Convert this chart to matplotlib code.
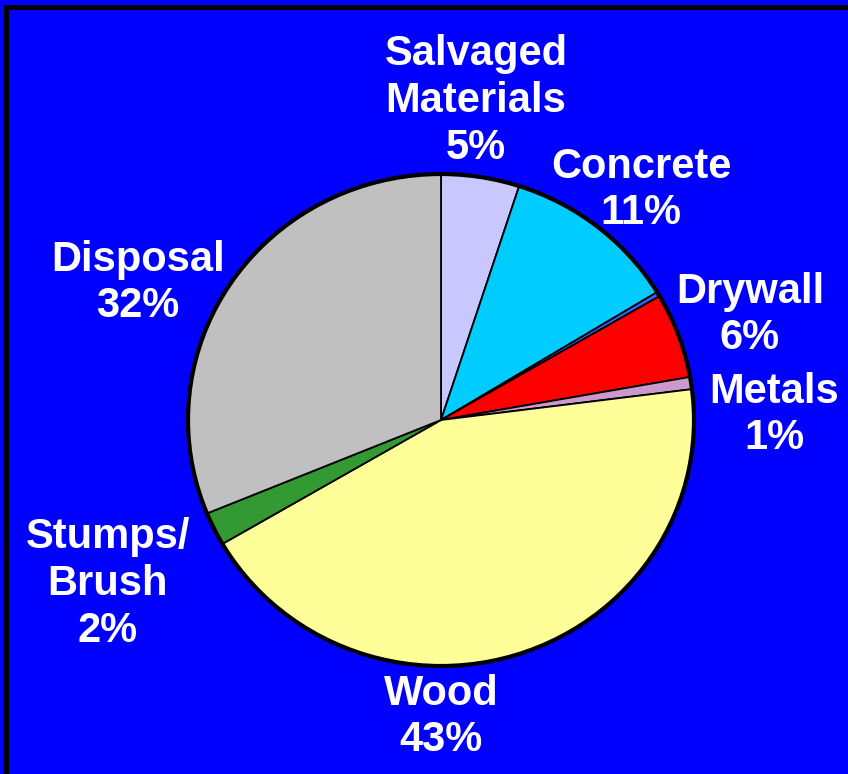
import matplotlib.pyplot as plt
from matplotlib.patches import Rectangle, Ellipse

# slice values, clockwise from 12 o'clock
categories = ["Salvaged\nMaterials", "Concrete", "", "Drywall", "Metals",
              "Wood", "Stumps/\nBrush", "Disposal"]
values = [5.0, 11.3, 0.3, 5.6, 0.8, 43.6, 2.2, 31.2]
pct_labels = ["5%", "11%", "", "6%", "1%", "43%", "2%", "32%"]
colors = ["#C8C8FF", "#00CCFF", "#3366FF", "#FF0000", "#CC99CC",
          "#FFFF99", "#339933", "#C0C0C0"]

W, H = 848, 774
fig = plt.figure(figsize=(W / 100, H / 100), dpi=100)
fig.patch.set_facecolor("#0000FF")

# frame (cut off at right and bottom like the source)
fig.patches.append(Rectangle((5.5 / W, -0.1), 1.2, 1.1 - 6.5 / H,
                             transform=fig.transFigure, fill=False,
                             edgecolor="black", linewidth=3.5))

# pie bounding box in pixels (with a small margin for the outline)
cx, cy, rx, ry = 441, 420, 253 * 1.01, 246 * 1.01
ax = fig.add_axes([(cx - rx) / W, 1 - (cy + ry) / H, 2 * rx / W, 2 * ry / H])

wedges, _ = ax.pie(values, colors=colors, startangle=90, counterclock=False,
                   radius=1, wedgeprops=dict(edgecolor="black", linewidth=1.3))
ax.add_patch(Ellipse((0, 0), 2, 2, fill=False, edgecolor="black",
                     linewidth=3, zorder=5))
ax.set_xlim(-1.01, 1.01)
ax.set_ylim(-1.01, 1.01)
ax.set_aspect("auto")
ax.axis("off")

# label centres in pixels
label_pos = [(476, 101), (641, 190), None, (750, 315), (774, 415),
             (441, 717), (108, 584), (138, 283)]
for cat, pct, pos in zip(categories, pct_labels, label_pos):
    if pos is None:
        continue
    px, py = pos
    fig.text(px / W, 1 - py / H, f"{cat}\n{pct}", ha="center", va="center",
             color="white", fontsize=30, fontweight="bold",
             family="Liberation Sans", linespacing=1.22)

fig.savefig("out.png", dpi=100, facecolor=fig.get_facecolor())
